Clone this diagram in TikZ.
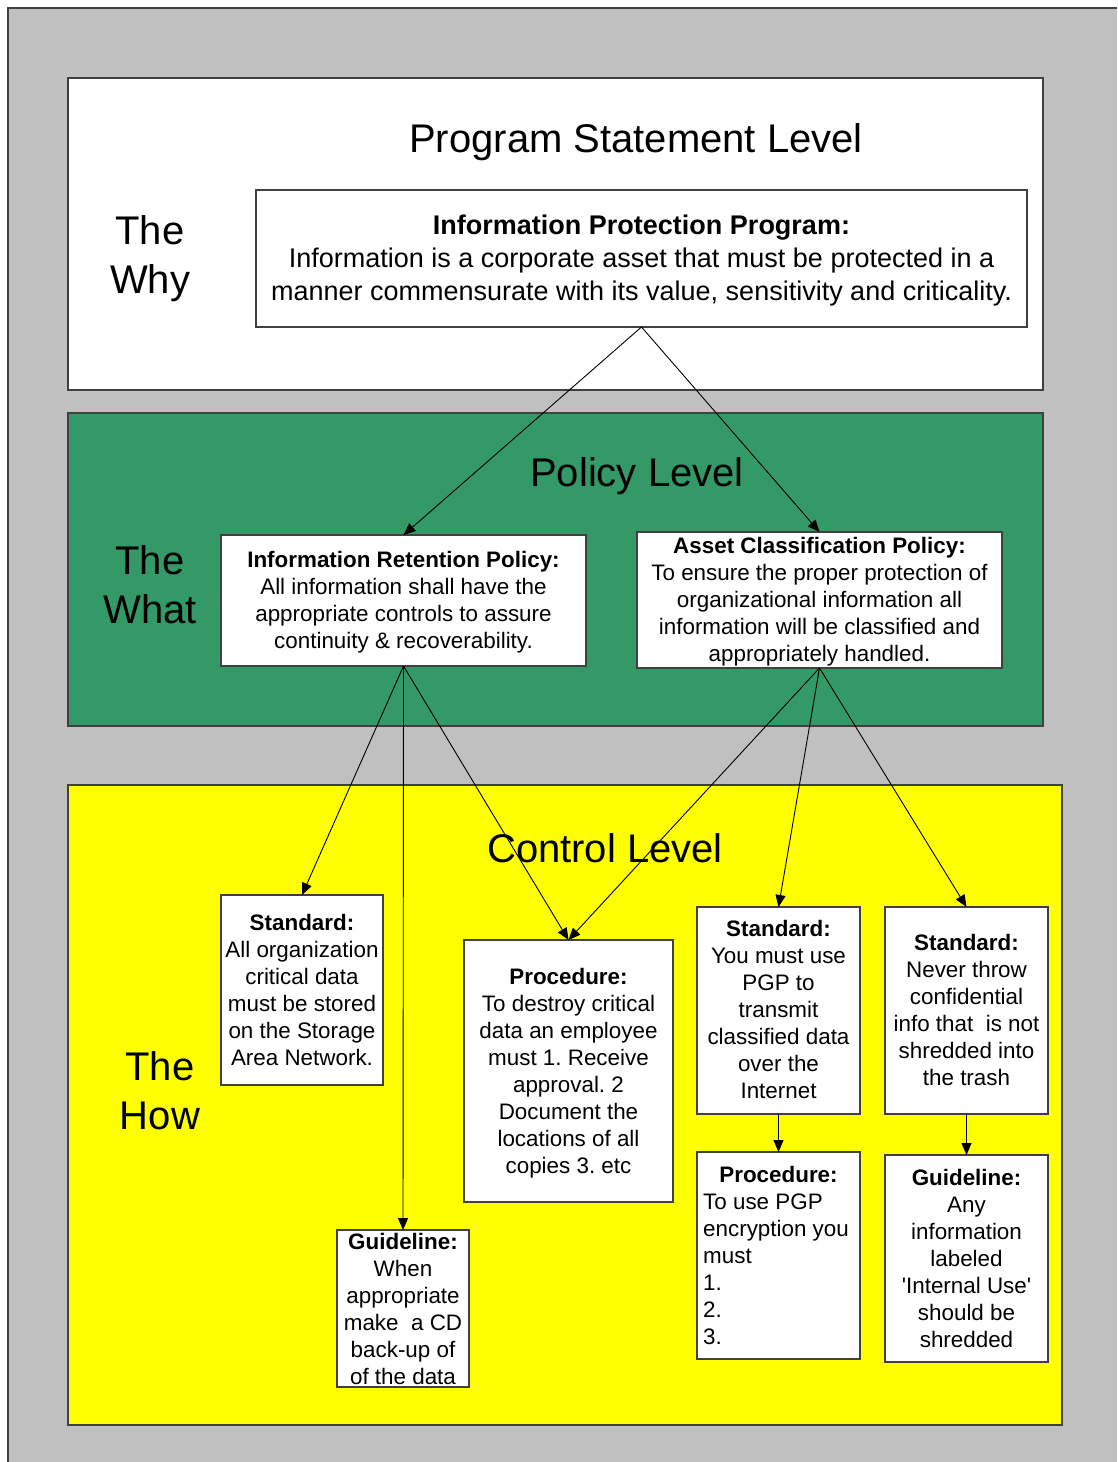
\documentclass[tikz,border=0pt]{standalone}
\usepackage{fontspec}
\setmainfont{Liberation Sans}
\usetikzlibrary{arrows.meta}

\definecolor{pagegray}{HTML}{C0C0C0}
\definecolor{policygreen}{HTML}{339966}
\definecolor{controlyellow}{HTML}{FFFF00}
\definecolor{edgegray}{HTML}{404040}

\newcommand{\bigtxt}{\fontsize{40}{49}\selectfont}
\newcommand{\midtxt}{\fontsize{27}{33}\selectfont}
\newcommand{\smalltxt}{\fontsize{22.4}{27}\selectfont\frenchspacing}

\tikzset{
  band/.style={draw=edgegray, line width=1.4pt, inner sep=0pt, outer sep=0pt, anchor=north west},
  card/.style={draw=edgegray, fill=white, line width=1.2pt, inner sep=0pt, outer sep=0pt, anchor=north west},
  bigtext/.style={inner sep=0pt, font=\bigtxt, align=center},
  cardtext/.style={inner sep=0pt, font=\smalltxt, align=center},
  arr/.style={line width=0.9pt, -{Triangle[length=12pt,width=10pt]}},
}

\begin{document}
\frenchspacing
\begin{tikzpicture}[x=1pt, y=-1pt]
  \useasboundingbox (0,0) rectangle (1117,1462);

  % page background
  \fill[pagegray] (8,8) rectangle (1117,1462);
  \draw[edgegray, line width=1.5pt] (8,1462) -- (8,8) -- (1117,8);

  % the three levels
  \node[band, fill=white, minimum width=975pt, minimum height=312pt] (why) at (68,78) {};
  \node[band, fill=policygreen, minimum width=975pt, minimum height=313pt] (what) at (68,413) {};
  \node[band, fill=controlyellow, minimum width=994pt, minimum height=640pt] (how) at (68,785) {};

  \node[bigtext] (whylevel) at (636,142) {Program Statement Level};
  \node[bigtext] (whylabel) at (150,259) {The\\Why};
  \node[bigtext] (whatlevel) at (637,476) {Policy Level};
  \node[bigtext] (whatlabel) at (150,585) {The\\What};
  \node[bigtext] (howlevel) at (605,848) {Control Level};
  \node[bigtext] (howlabel) at (160,1091) {The\\How};

  % program statement
  \node[card, minimum width=771pt, minimum height=137pt] (ipp) at (256,190) {};
  \node[inner sep=0pt, font=\midtxt, align=center] (ipptext) at (641.5,261)
    {\textbf{Information Protection Program:}\\
     Information is a corporate asset that must be protected in a\\
     manner commensurate with its value, sensitivity and criticality.};

  % policies
  \node[card, minimum width=365pt, minimum height=131pt] (irp) at (221,535) {};
  \node[cardtext] (irptext) at (403.5,602.5)
    {\textbf{Information Retention Policy:}\\
     All information shall have the\\
     appropriate controls to assure\\
     continuity \& recoverability.};

  \node[card, minimum width=365pt, minimum height=136pt] (acp) at (637,532) {};
  \node[cardtext] (acptext) at (819.5,602)
    {\textbf{Asset Classification Policy:}\\
     To ensure the proper protection of\\
     organizational information all\\
     information will be classified and\\
     appropriately handled.};

  % controls
  \node[card, minimum width=162pt, minimum height=190pt] (std1) at (221,895) {};
  \node[cardtext] (std1text) at (302,989.5)
    {\textbf{Standard:}\\
     All organization\\
     critical data\\
     must be stored\\
     on the Storage\\
     Area Network.};

  \node[card, minimum width=209pt, minimum height=262pt] (proc1) at (464,940) {};
  \node[cardtext] (proc1text) at (568.5,1073.5)
    {\textbf{Procedure:}\\
     To destroy critical\\
     data an employee\\
     must 1. Receive\\
     approval. 2\\
     Document the\\
     locations of all\\
     copies 3. etc};

  \node[card, minimum width=163pt, minimum height=207pt] (std2) at (697,907) {};
  \node[cardtext] (std2text) at (778.5,1009.5)
    {\textbf{Standard:}\\
     You must use\\
     PGP to\\
     transmit\\
     classified data\\
     over the\\
     Internet};

  \node[card, minimum width=163pt, minimum height=207pt] (std3) at (885,907) {};
  \node[cardtext] (std3text) at (966.5,1009.5)
    {\textbf{Standard:}\\
     Never throw\\
     confidential\\
     info that~ is not\\
     shredded into\\
     the trash};

  \node[card, minimum width=163pt, minimum height=207pt] (proc2) at (697,1152) {};
  \node[cardtext, anchor=center] (proc2head) at (778.5,1174) {\textbf{Procedure:}};
  \node[cardtext, align=left, anchor=west] (proc2text) at (703,1269.5)
    {To use PGP\\
     encryption you\\
     must\\
     1.\\
     2.\\
     3.};

  \node[card, minimum width=163pt, minimum height=207pt] (guide2) at (885,1155) {};
  \node[cardtext] (guide2text) at (966.5,1258)
    {\textbf{Guideline:}\\
     Any\\
     information\\
     labeled\\
     \textquotesingle Internal Use\textquotesingle\\
     should be\\
     shredded};

  \node[card, minimum width=132pt, minimum height=157pt] (guide1) at (337,1230) {};
  \node[cardtext] (guide1text) at (403,1308.5)
    {\textbf{Guideline:}\\
     When\\
     appropriate\\
     make~ a CD\\
     back-up of\\
     of the data};

  % connectors
  \draw[arr] (ipp.south) -- (irp.north);
  \draw[arr] (ipp.south) -- (acp.north);
  \draw[arr] (irp.south) -- (std1.north);
  \draw[arr] (irp.south) -- (guide1.north);
  \draw[arr] (irp.south) -- (proc1.north);
  \draw[arr] (acp.south) -- (proc1.north);
  \draw[arr] (acp.south) -- (std2.north);
  \draw[arr] (acp.south) -- (std3.north);
  \draw[arr] (std2.south) -- (proc2.north);
  \draw[arr] (std3.south) -- (guide2.north);
\end{tikzpicture}
\end{document}
